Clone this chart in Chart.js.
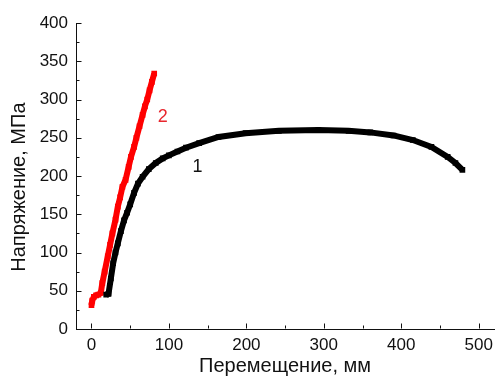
<!DOCTYPE html>
<html>
<head>
<meta charset="utf-8">
<script src="https://cdn.jsdelivr.net/npm/chart.js@4.4.1/dist/chart.umd.min.js"></script>
<style>
  html, body { margin: 0; padding: 0; background: #fff; }
  #wrap { width: 499px; height: 376px; }
</style>
</head>
<body>
<div id="wrap"><canvas id="c" width="499" height="376"></canvas></div>
<script>
// ---- data ----
const curve1X = [19, 22, 25, 28, 31, 34, 38, 42, 46, 50, 55, 60, 66, 74, 83, 92, 100, 111, 122, 139, 164, 199, 242, 293, 332, 360, 390, 415, 439, 460, 470, 479];
const curve1Y = [45, 46, 66, 86, 100, 112, 128, 142, 152, 163, 178, 190, 199, 209, 217, 223, 227, 232, 237, 243, 251, 256, 259, 260, 259, 257, 253, 247, 238, 225, 217, 208];
const curve2X = [0, 1, 3, 6, 9, 12, 14, 17, 21, 24, 27, 31, 34, 37, 40, 44, 48, 51, 55, 58, 62, 66, 69, 72, 75, 78, 81];
const curve2Y = [31, 37, 42, 44, 45, 47, 60, 75, 95, 110, 125, 143, 160, 172, 186, 195, 212, 225, 238, 250, 265, 280, 291, 300, 312, 323, 334];
const seriesNames = ['1', '2'];
const xTicks = [0, 100, 200, 300, 400, 500];
const yTicks = [0, 50, 100, 150, 200, 250, 300, 350, 400];
const xTitle = 'Перемещение, мм';
const yTitle = 'Напряжение, МПа';

const toPts = (xs, ys) => xs.map((x, i) => ({ x: x, y: ys[i] }));
const FONT = '"Liberation Sans", Arial, sans-serif';

// inward major/minor tick marks drawn through the scales
const innerTicks = {
  id: 'innerTicks',
  afterDraw(chart) {
    const { ctx, scales: { x, y } } = chart;
    ctx.save();
    ctx.strokeStyle = '#111';
    ctx.lineWidth = 1;
    ctx.beginPath();
    const yAxisX = Math.round(x.getPixelForValue(x.min)) + 0.5;
    const xAxisY = Math.round(y.getPixelForValue(y.min)) - 0.5;
    for (let i = 0; i < yTicks.length; i++) {
      const py = Math.round(y.getPixelForValue(yTicks[i])) + 0.5;
      ctx.moveTo(yAxisX, py); ctx.lineTo(yAxisX + 5, py);
      if (i < yTicks.length - 1) {
        const pm = Math.round(y.getPixelForValue((yTicks[i] + yTicks[i + 1]) / 2)) + 0.5;
        ctx.moveTo(yAxisX, pm); ctx.lineTo(yAxisX + 3, pm);
      }
    }
    for (let i = 0; i < xTicks.length; i++) {
      const px = Math.round(x.getPixelForValue(xTicks[i])) + 0.5;
      ctx.moveTo(px, xAxisY); ctx.lineTo(px, xAxisY - 5);
      if (i < xTicks.length - 1) {
        const pm = Math.round(x.getPixelForValue((xTicks[i] + xTicks[i + 1]) / 2)) + 0.5;
        ctx.moveTo(pm, xAxisY); ctx.lineTo(pm, xAxisY - 3);
      }
    }
    ctx.stroke();
    // curve labels placed in data coordinates
    ctx.font = '18px ' + FONT;
    ctx.textAlign = 'center';
    ctx.textBaseline = 'middle';
    ctx.fillStyle = '#111';
    ctx.fillText(seriesNames[0], x.getPixelForValue(137), y.getPixelForValue(212));
    ctx.fillStyle = '#e8262d';
    ctx.fillText(seriesNames[1], x.getPixelForValue(92), y.getPixelForValue(277));
    ctx.restore();
  }
};

new Chart(document.getElementById('c'), {
  type: 'scatter',
  data: {
    datasets: [
      {
        label: seriesNames[0],
        data: toPts(curve1X, curve1Y),
        showLine: true,
        borderColor: '#000',
        backgroundColor: '#000',
        borderWidth: 6,
        pointStyle: 'rect',
        pointRadius: 4,
        pointBorderWidth: 0,
        tension: 0
      },
      {
        label: seriesNames[1],
        data: toPts(curve2X, curve2Y),
        showLine: true,
        borderColor: '#ff0000',
        backgroundColor: '#ff0000',
        borderWidth: 6,
        pointStyle: 'rect',
        pointRadius: 4,
        pointBorderWidth: 0,
        tension: 0
      }
    ]
  },
  options: {
    responsive: false,
    animation: false,
    devicePixelRatio: 1,
    layout: { padding: { left: 0, right: 2, top: 23, bottom: 0 } },
    plugins: { legend: { display: false }, tooltip: { enabled: false } },
    scales: {
      x: {
        type: 'linear',
        min: -20,
        max: 520,
        afterBuildTicks: s => { s.ticks = xTicks.map(v => ({ value: v })); },
        afterFit: s => { s.height = 47; },
        grid: { drawOnChartArea: false, drawTicks: false },
        border: { display: true, color: '#111', width: 1 },
        ticks: {
          padding: 6,
          color: '#111',
          font: { family: FONT, size: 17 },
          maxRotation: 0
        },
        title: {
          display: true,
          text: xTitle,
          color: '#111',
          padding: { top: 0, bottom: 0 },
          font: { family: FONT, size: 20, lineHeight: 1 }
        }
      },
      y: {
        type: 'linear',
        min: 0,
        max: 400,
        afterBuildTicks: s => { s.ticks = yTicks.map(v => ({ value: v })); },
        afterFit: s => { s.width = 76; },
        grid: { drawOnChartArea: false, drawTicks: false },
        border: { display: true, color: '#111', width: 1 },
        ticks: {
          padding: 8,
          color: '#111',
          font: { family: FONT, size: 17 }
        },
        title: {
          display: true,
          text: yTitle + '    ',
          color: '#111',
          padding: { top: 9, bottom: 0 },
          font: { family: FONT, size: 20, lineHeight: 1 }
        }
      }
    }
  },
  plugins: [innerTicks]
});
</script>
</body>
</html>
